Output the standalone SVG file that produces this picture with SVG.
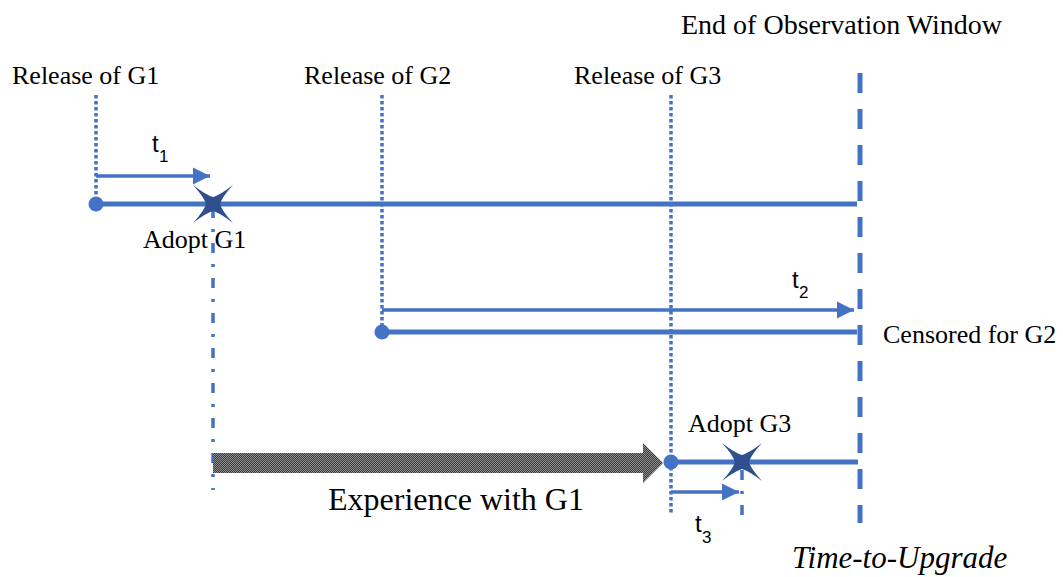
<svg xmlns="http://www.w3.org/2000/svg" width="1063" height="577" viewBox="0 0 1063 577">
  <style>
    .serif { font-family: "Liberation Serif", "Times New Roman", serif; fill: #000; }
    .lbl { font-size: 26px; }
    .sans { font-family: "Liberation Sans", Arial, sans-serif; fill: #000; }
    .tmain { font-size: 24px; }
    .tsub { font-size: 17px; }
    .track { stroke: #4472C4; stroke-width: 5; fill: none; }
    .span { stroke: #4472C4; stroke-width: 3.5; fill: none; marker-end: url(#head); }
    .dotted { stroke: #4472C4; stroke-width: 3.5; stroke-dasharray: 3.5 2.5; fill: none; }
    .dashdot { stroke: #4472C4; stroke-width: 3.5; stroke-dasharray: 10 11 3 11; fill: none; }
    .window { stroke: #4472C4; stroke-width: 5; stroke-dasharray: 20 16; fill: none; }
    .start { fill: #4472C4; }
    .adopt { fill: #2F4F8F; }
  </style>
  <defs>
    <marker id="head" markerWidth="5" markerHeight="5" refX="4.4" refY="2.2" orient="auto" markerUnits="strokeWidth" viewBox="0 0 4.4 4.4">
      <path d="M0,0 L4.4,2.2 L0,4.4 Z" fill="#4472C4"/>
    </marker>
    <pattern id="grain" width="2" height="2" patternUnits="userSpaceOnUse">
      <rect width="2" height="2" fill="#3f3f3f"/>
      <rect width="1" height="1" fill="#8a8a8a"/>
      <rect x="1" y="1" width="1" height="1" fill="#8a8a8a"/>
    </pattern>
    <!-- four-pointed adoption star, points on the diagonals -->
    <path id="star" d="M-20,-19 Q-7,-9 0,-7 Q7,-9 20,-19 Q9,-7 7,0 Q9,7 20,19 Q7,9 0,7 Q-7,9 -20,19 Q-9,7 -7,0 Q-9,-7 -20,-19 Z"/>
  </defs>

  <!-- release markers and observation window -->
  <g id="release-g1">
    <line class="dotted" x1="96" y1="95" x2="96" y2="203"/>
    <text class="serif lbl" x="12" y="84">Release of G1</text>
  </g>
  <g id="release-g2">
    <line class="dotted" x1="382" y1="95" x2="382" y2="332"/>
    <text class="serif lbl" x="304" y="84">Release of G2</text>
  </g>
  <g id="release-g3">
    <line class="dotted" x1="671" y1="95" x2="671" y2="515"/>
    <text class="serif lbl" x="574" y="84">Release of G3</text>
  </g>
  <g id="window-end">
    <line class="window" x1="860" y1="73" x2="860" y2="523"/>
    <text class="serif" font-size="28" x="681" y="34">End of Observation Window</text>
  </g>

  <!-- connectors: timelines, spans and experience arrow -->
  <g id="connectors">
    <line class="track" x1="96" y1="204" x2="857" y2="204"/>
    <line class="track" x1="382" y1="332" x2="857" y2="332"/>
    <line class="track" x1="671" y1="462" x2="858" y2="462"/>
    <line class="span" x1="96" y1="176" x2="210" y2="176"/>
    <line class="span" x1="382" y1="310" x2="854" y2="310"/>
    <line class="span" x1="671" y1="492" x2="739" y2="492"/>
    <line class="dashdot" x1="213" y1="208" x2="213" y2="490"/>
    <line class="dashdot" x1="742" y1="470" x2="742" y2="523"/>
    <path d="M213,453 L643,453 L643,443 L663,463 L643,483 L643,473 L213,473 Z" fill="url(#grain)"/>
  </g>

  <!-- timeline start points -->
  <g id="start-g1"><circle class="start" cx="96" cy="204" r="7.5"/></g>
  <g id="start-g2"><circle class="start" cx="382" cy="332" r="7.5"/></g>
  <g id="start-g3"><circle class="start" cx="671" cy="462" r="7.5"/></g>

  <!-- adoption events -->
  <g id="adopt-g1">
    <use href="#star" class="adopt" transform="translate(213,204)"/>
    <text class="serif lbl" x="143" y="248">Adopt G1</text>
  </g>
  <g id="adopt-g3">
    <use href="#star" class="adopt" transform="translate(742,462)"/>
    <text class="serif lbl" x="688" y="432">Adopt G3</text>
  </g>

  <!-- span labels -->
  <g id="t1">
    <text class="sans tmain" x="152" y="152">t</text>
    <text class="sans tsub" x="159" y="162">1</text>
  </g>
  <g id="t2">
    <text class="sans tmain" x="792" y="288">t</text>
    <text class="sans tsub" x="799" y="298">2</text>
  </g>
  <g id="t3">
    <text class="sans tmain" x="695" y="532">t</text>
    <text class="sans tsub" x="702" y="543">3</text>
  </g>

  <g id="censored-g2">
    <text class="serif lbl" x="883" y="343">Censored for G2</text>
  </g>
  <g id="experience">
    <text class="serif" font-size="32" x="328" y="510">Experience with G1</text>
  </g>
  <g id="axis-title">
    <text class="serif" font-size="31" font-style="italic" x="792" y="568">Time-to-Upgrade</text>
  </g>
</svg>
